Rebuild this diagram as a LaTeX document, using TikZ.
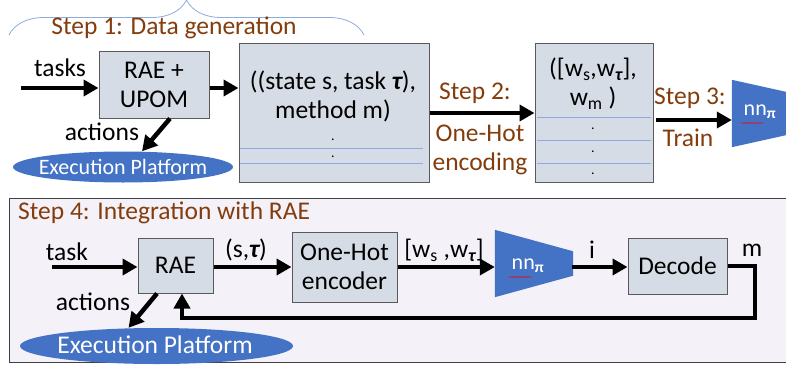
\documentclass[tikz,border=0pt]{standalone}
\usepackage{fontspec}
\setmainfont{Carlito}
\usetikzlibrary{arrows.meta,shapes.geometric,decorations.pathreplacing,decorations.pathmorphing}
\definecolor{boxfill}{HTML}{D6DCE5}
\definecolor{boxline}{HTML}{595959}
\definecolor{stepbrown}{HTML}{843C0C}
\definecolor{platblue}{HTML}{4472C4}
\definecolor{tabblue}{HTML}{8FAADC}
\definecolor{panelfill}{HTML}{F4F2F8}
\definecolor{panelline}{HTML}{404040}
\newcommand{\tauB}{{\bfseries\itshape τ}}

\begin{document}
\begin{tikzpicture}[x=1pt,y=-1pt,
    every node/.style = {font=\fontsize{25.5}{29}\selectfont, align=center, inner sep=0pt},
    box/.style = {draw=boxline, fill=boxfill, line width=1pt},
    arr/.style = {line width=4.5pt, -{Triangle[length=15pt,width=16pt]}},
    steptxt/.style = {text=stepbrown},
    platform/.style = {ellipse, fill=platblue},
    platformtxt/.style = {text=white},
    tabline/.style = {draw=tabblue, line width=0.8pt},
    dotmark/.style = {anchor=base, font=\fontsize{14}{14}\selectfont},
    nnshape/.style = {fill=platblue},
    spell/.style = {draw=red, line width=0.4pt, decorate,
      decoration={snake, amplitude=0.6pt, segment length=2.4pt}}]
  \useasboundingbox (0,0) rectangle (786,364);

  \draw[decorate, decoration={brace, amplitude=35pt}, tabblue, line width=0.8pt]
    (9,35) -- (364,35);
  \node[steptxt] (step1) at (174,28) {Step 1: Data generation};

  \coordinate (in1) at (21,88);
  \node (tasks1) at (60,68) {tasks};
  \node[box, minimum width=110, minimum height=67] (rae1) at (154,84.5) {RAE +\\UPOM};
  \node[box, minimum width=190, minimum height=139] (data) at (334,112.5) {};
  \node (datatxt) at (333,96) {((state s, task \tauB),\\method m)};
  \node[dotmark] at (333,140) {.};
  \node[dotmark] at (333,157) {.};
  \draw[tabline] (240,148) -- (423,148);
  \draw[tabline] (240,163) -- (423,163);
  \draw[arr] (in1) -- (in1 -| rae1.west);
  \draw[arr] (in1 -| rae1.east) -- (in1 -| data.west);

  \node (act1) at (102,132) {actions};
  \node[platform, minimum width=220, minimum height=31] (exec1) at (123,167) {};
  \node[platformtxt, font=\fontsize{22}{22}\selectfont] (exec1txt) at (exec1) {Execution Platform};
  \draw[arr] ([xshift=16]rae1.south) -- ([xshift=19]exec1.north);

  \node[steptxt] (step2) at (475,93) {Step 2:};
  \node[steptxt] (enc1) at (480,150) {One-Hot\\encoding};
  \node[box, minimum width=118, minimum height=139] (wbox) at (594,112.5) {};
  \node (wtxt) at (593,84) {([w\textsubscript{s},w\textsubscript{\tauB}],\\w\textsubscript{m} )};
  \draw[tabline] (537,117.5) -- (651,117.5);
  \draw[tabline] (537,140) -- (651,140);
  \draw[tabline] (537,163) -- (651,163);
  \node[dotmark] at (593,129) {.};
  \node[dotmark] at (593,152) {.};
  \node[dotmark] at (593,174) {.};
  \draw[arr] ([yshift=-0.5]data.east) -- ([yshift=-0.5]wbox.west);

  \node[steptxt] (step3) at (690,98) {Step 3:};
  \node[steptxt] (train) at (688,138) {Train};
  \node[minimum width=79, minimum height=67] (nn1) at (771.5,113.5) {};
  \fill[nnshape] (nn1.north west) -- ([yshift=-17.6]nn1.north east)
    -- ([yshift=17.6]nn1.south east) -- (nn1.south west) -- cycle;
  \node[text=white, font=\fontsize{22}{22}\selectfont] (nn1txt) at (760,112) {nn\textsubscript{\bfseries π}};
  \draw[spell] (741,123) -- (763,123);
  \coordinate (tr1) at (656,120);
  \draw[arr] (tr1) -- (tr1 -| nn1.west);

  \draw[draw=panelline, fill=panelfill, line width=1pt] (9,198) rectangle (795,362);
  \node[steptxt, anchor=west] (step4) at (18,213) {Step 4: Integration with RAE};

  \coordinate (in2) at (52,267);
  \node (task2) at (67,252) {task};
  \node[box, minimum width=75, minimum height=55] (rae2) at (175.5,265.5) {RAE};
  \node (st) at (246,250) {(s,\tauB)};
  \node[box, minimum width=105, minimum height=70] (enc2) at (344.5,267) {One-Hot\\encoder};
  \node (wst) at (444,250) {[w\textsubscript{s} ,w\textsubscript{\tauB}]};
  \node[minimum width=78, minimum height=67] (nn2) at (534,263.5) {};
  \fill[nnshape] (nn2.north west) -- ([yshift=-21.5]nn2.north east)
    -- ([yshift=21.5]nn2.south east) -- (nn2.south west) -- cycle;
  \node[text=white, font=\fontsize{22}{22}\selectfont] (nn2txt) at (528,266) {nn\textsubscript{\bfseries π}};
  \draw[spell] (509,277) -- (532,277);
  \node (idx) at (592,250) {i};
  \node[box, minimum width=99, minimum height=56] (dec) at (677.5,266) {Decode};
  \node (mout) at (752,250) {m};
  \coordinate (fb) at (755,318);

  \draw[arr] (in2) -- (in2 -| rae2.west);
  \draw[arr] (in2 -| rae2.east) -- (in2 -| enc2.west);
  \draw[arr] (in2 -| enc2.east) -- (in2 -| nn2.west);
  \draw[arr] ([xshift=-1]in2 -| nn2.east) -- (in2 -| dec.west);
  \draw[arr] (dec.east) -| (fb) -| ([xshift=6.5]rae2.south);

  \node (act2) at (93,302) {actions};
  \node[platform, minimum width=273, minimum height=36] (exec2) at (156.5,346) {};
  \node[platformtxt] (exec2txt) at (155,345) {Execution Platform};
  \draw[arr] ([xshift=-18.5]rae2.south) -- ([xshift=-28]exec2.north);
\end{tikzpicture}
\end{document}
